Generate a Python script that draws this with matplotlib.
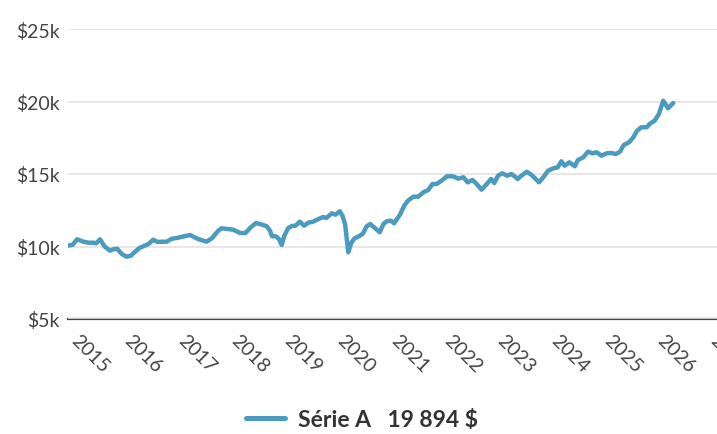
import matplotlib
matplotlib.use("Agg")
import matplotlib.pyplot as plt

plt.rcParams['font.family'] = ['Lato', 'DejaVu Sans']

# values: (decimal year, dollars)
years = [2015.00, 2015.09, 2015.17, 2015.29, 2015.38, 2015.47, 2015.53, 2015.60,
         2015.69, 2015.79, 2015.85, 2015.92, 2016.01, 2016.10, 2016.18, 2016.26,
         2016.34, 2016.44, 2016.51, 2016.60, 2016.68, 2016.76, 2016.85, 2016.95,
         2017.04, 2017.18, 2017.29, 2017.44, 2017.60, 2017.70, 2017.82, 2017.88,
         2018.10, 2018.23, 2018.33, 2018.43, 2018.53, 2018.62, 2018.73, 2018.79,
         2018.83, 2018.90, 2018.96, 2019.01, 2019.06, 2019.13, 2019.20, 2019.27,
         2019.35, 2019.43, 2019.51, 2019.60, 2019.70, 2019.79, 2019.85, 2019.95,
         2020.02, 2020.10, 2020.15, 2020.20, 2020.26, 2020.32, 2020.38, 2020.48,
         2020.54, 2020.60, 2020.67, 2020.73, 2020.85, 2020.92, 2020.98, 2021.06,
         2021.12, 2021.23, 2021.31, 2021.38, 2021.48, 2021.57, 2021.67, 2021.76,
         2021.84, 2021.92, 2022.01, 2022.11, 2022.23, 2022.32, 2022.42, 2022.50,
         2022.59, 2022.67, 2022.76, 2022.86, 2022.94, 2023.00, 2023.07, 2023.15,
         2023.24, 2023.32, 2023.39, 2023.44, 2023.51, 2023.61, 2023.70, 2023.84,
         2023.92, 2024.01, 2024.11, 2024.19, 2024.26, 2024.32, 2024.41, 2024.51,
         2024.57, 2024.67, 2024.76, 2024.84, 2024.92, 2025.01, 2025.11, 2025.20,
         2025.28, 2025.36, 2025.43, 2025.53, 2025.61, 2025.68, 2025.76, 2025.86,
         2025.93, 2026.01, 2026.09, 2026.17, 2026.26, 2026.36]
values = [10060, 10124, 10497, 10331, 10262, 10262, 10221, 10497,
          9987, 9711, 9807, 9849, 9483, 9297, 9366, 9642,
          9897, 10055, 10173, 10469, 10311, 10331, 10331, 10538,
          10587, 10704, 10793, 10518, 10331, 10566, 11090, 11256,
          11159, 10931, 10931, 11325, 11621, 11531, 11394, 11090,
          10704, 10704, 10518, 10104, 10745, 11256, 11414, 11435,
          11711, 11435, 11642, 11711, 11897, 12035, 11966, 12290,
          12194, 12428, 12125, 11552, 9600, 10290, 10566, 10745,
          10911, 11366, 11552, 11366, 10980, 11552, 11738, 11780,
          11600, 12194, 12814, 13159, 13435, 13435, 13738, 13897,
          14311, 14311, 14539, 14842, 14842, 14677, 14773, 14428,
          14587, 14311, 13918, 14311, 14656, 14380, 14884, 15049,
          14884, 15001, 14815, 14656, 14884, 15159, 14932, 14428,
          14773, 15228, 15394, 15463, 15877, 15573, 15807, 15532,
          15966, 16152, 16539, 16428, 16497, 16263, 16428, 16449,
          16380, 16539, 17001, 17187, 17532, 17987, 18222, 18222,
          18497, 18677, 19139, 20056, 19532, 19894]

year_ticks = list(range(2015, 2028))
y_ticks = [5000, 10000, 15000, 20000, 25000]
y_labels = ['$5k', '$10k', '$15k', '$20k', '$25k']
series_name = 'Série A'
last_label = '19 894 $'

blue = '#4b9bbf'

fig = plt.figure(figsize=(7.17, 4.35), dpi=100)
ax = fig.add_axes([68 / 717, 1 - 320 / 435, 1 - 68 / 717, 290 / 435])

ax.plot(years, values, color=blue, lw=3.2, solid_joinstyle='round',
        solid_capstyle='round', label=series_name + '   ' + last_label)

ax.set_xlim(2015.0, 2027.18)
ax.set_ylim(5000, 25000)
ax.set_yticks(y_ticks)
ax.set_yticklabels(y_labels)
ax.set_xticks(year_ticks)
ax.set_xticklabels([str(y) for y in year_ticks], rotation=-45,
                   ha='left', va='top', rotation_mode='default')

ax.grid(axis='y', color='#e3e3e3', lw=1.2)
ax.set_axisbelow(True)
for s in ['top', 'right', 'left']:
    ax.spines[s].set_visible(False)
ax.spines['bottom'].set_color('#444444')
ax.spines['bottom'].set_linewidth(1.6)
ax.spines['bottom'].set_zorder(0.5)

ax.tick_params(axis='y', length=0, pad=6, labelsize=14, labelcolor='#444444')
ax.tick_params(axis='x', length=0, pad=9, labelsize=14, labelcolor='#444444')

leg = fig.legend(loc='center', bbox_to_anchor=(0.505, 1 - 421 / 435), frameon=False,
                 handlelength=1.7, handletextpad=0.6,
                 prop={'family': 'Lato', 'weight': 'bold', 'size': 16.5})
for t in leg.get_texts():
    t.set_color('#333333')
for h in leg.legend_handles:
    h.set_linewidth(3.6)

fig.savefig('out.png', dpi=100)
